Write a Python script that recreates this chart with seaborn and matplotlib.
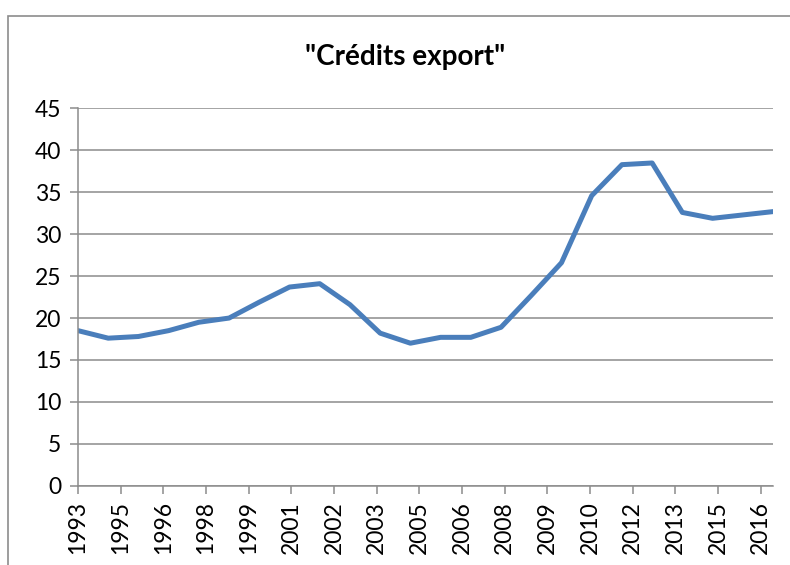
import matplotlib
matplotlib.use("Agg")
import matplotlib.pyplot as plt
import seaborn as sns
import pandas as pd
from matplotlib.patches import Rectangle

years = list(range(1993, 2017))
values = [18.5, 17.6, 17.8, 18.5, 19.5, 20.0, 21.9, 23.7, 24.1, 21.6,
          18.2, 17.0, 17.7, 17.7, 18.9, 22.7, 26.6, 34.6, 38.3, 38.5,
          32.6, 31.9, 32.3, 32.7]
tick_labels = ["1993", "1995", "1996", "1998", "1999", "2001", "2002", "2003",
               "2005", "2006", "2008", "2009", "2010", "2012", "2013", "2015", "2016"]
title = '"Crédits export"'

sns.set_style("white")
plt.rcParams['font.family'] = ['Lato', 'DejaVu Sans']

df = pd.DataFrame({"year": years, "value": values})

fig = plt.figure(figsize=(7.9, 5.65), dpi=100)
# outer chart border
fig.patches.append(Rectangle((8 / 790, -0.1), 1.2, 1 - 15.5 / 565 + 0.1,
                             transform=fig.transFigure, fill=False,
                             edgecolor="#8c8c8c", linewidth=1.2))

ax = fig.add_axes([78 / 790, (565 - 485.7) / 565, (773 - 78) / 790, (485.7 - 108.5) / 565])
sns.lineplot(data=df, x="year", y="value", ax=ax, color="#4a7ebb", linewidth=3.6)

ax.set_xlim(years[0], years[-1])
ax.set_ylim(0, 45)
ax.set_yticks(range(0, 46, 5))
step = 42.67 / ((773 - 78) / (years[-1] - years[0]))
ax.set_xticks([years[0] + k * step for k in range(len(tick_labels))])
ax.set_xticklabels(tick_labels, rotation=90)
ax.set_xlabel("")
ax.set_ylabel("")

ax.grid(axis="y", color="#8c8c8c", linewidth=1.1)
ax.set_axisbelow(True)
for s in ["top", "right"]:
    ax.spines[s].set_visible(False)
for s in ["left", "bottom"]:
    ax.spines[s].set_color("#8c8c8c")
    ax.spines[s].set_linewidth(1.1)
ax.tick_params(axis="both", which="major", length=6, width=1.1, color="#8c8c8c",
               labelsize=16.5, labelcolor="black", direction="out")
ax.tick_params(axis="y", pad=6)
ax.tick_params(axis="x", pad=5)
ax.yaxis.set_ticks_position("left")
ax.xaxis.set_ticks_position("bottom")

fig.text(405 / 790, 1 - 57 / 565, title, ha="center", va="center",
         fontsize=20, fontweight="bold", color="black")

fig.savefig("out.png", dpi=100)
